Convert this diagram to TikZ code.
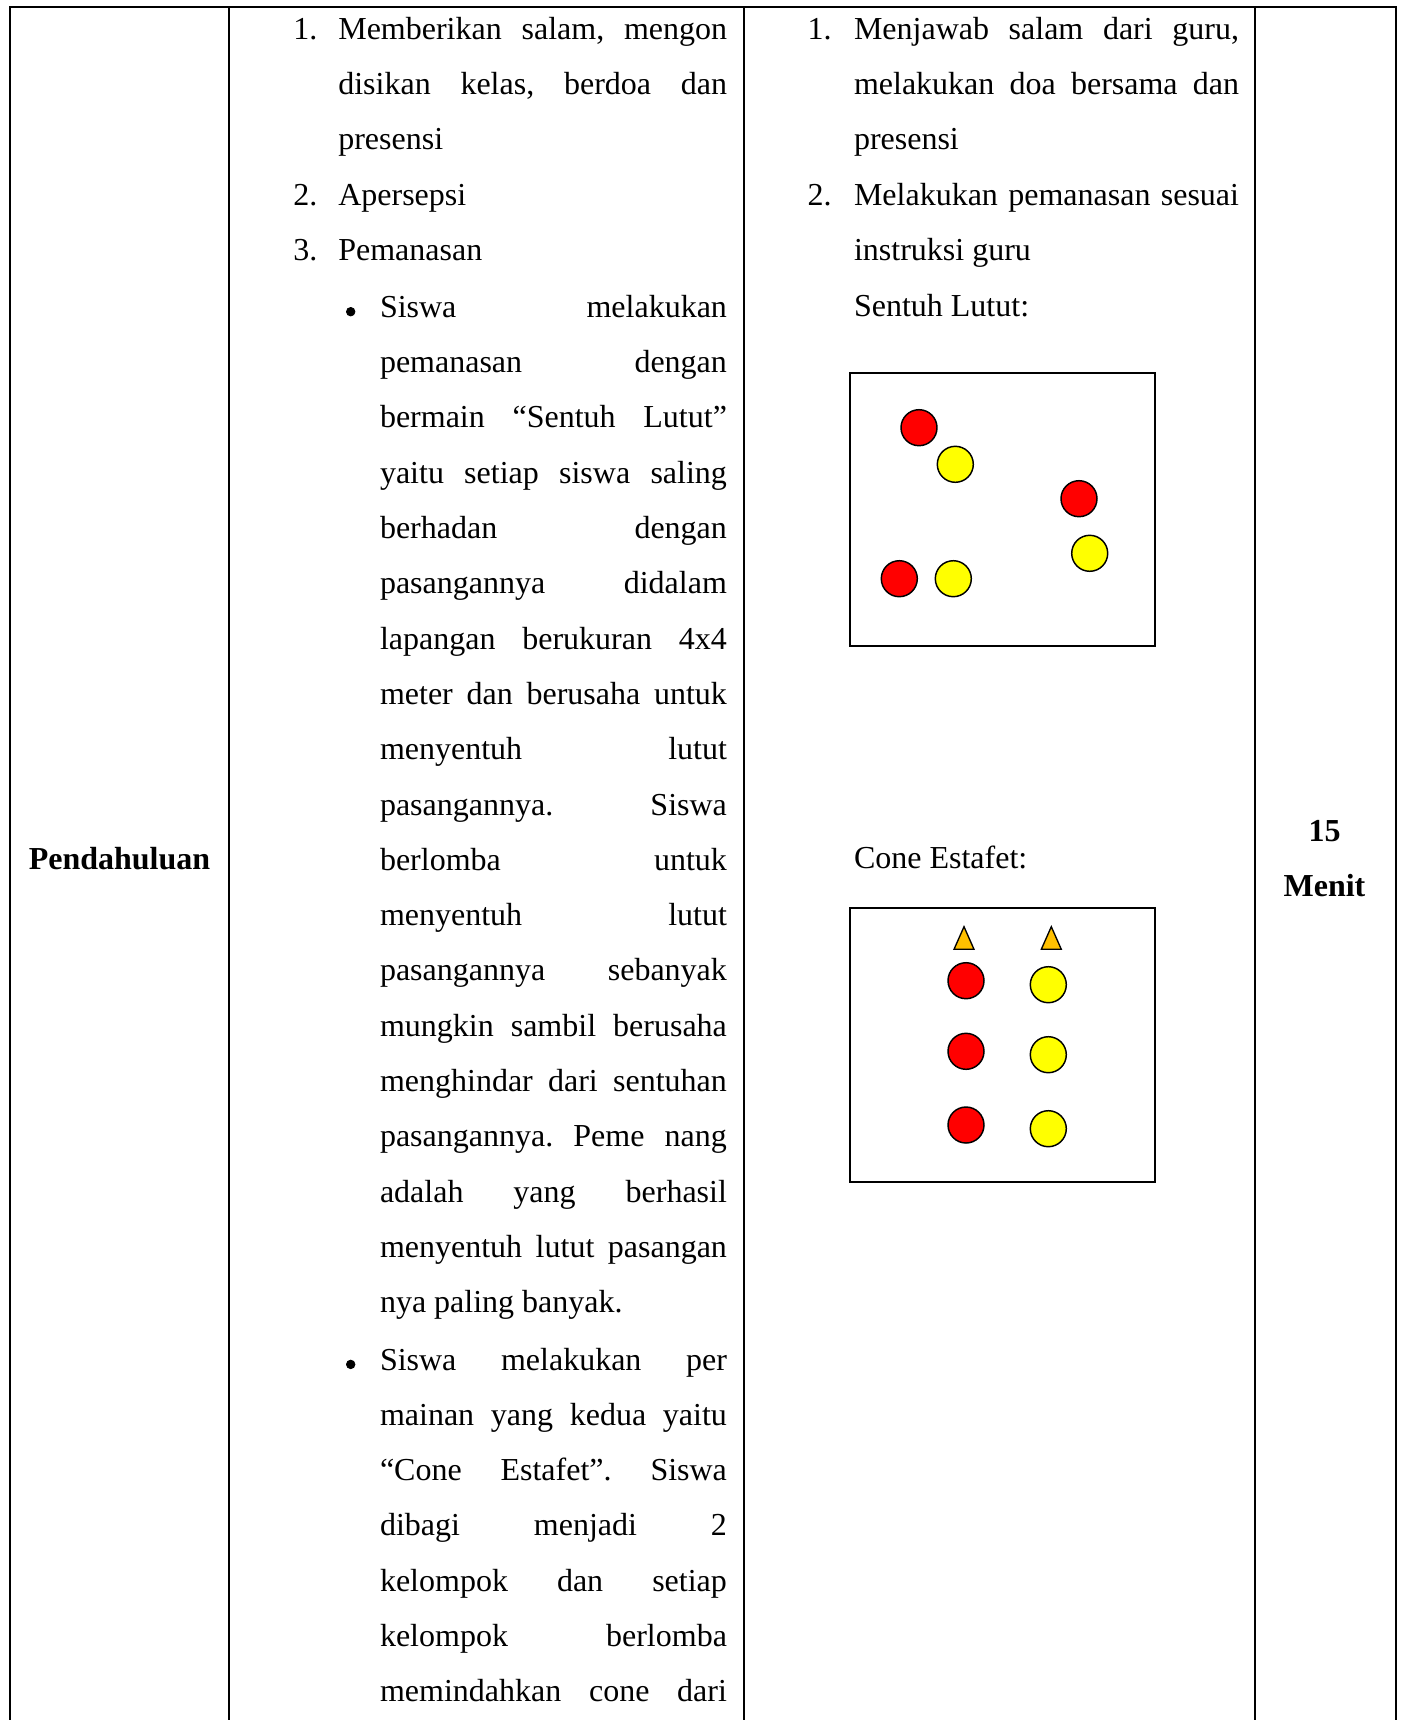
\documentclass[tikz,border=0pt]{standalone}
\usepackage{fontspec}
\setmainfont{Liberation Serif}
\definecolor{cred}{RGB}{255,0,0}
\definecolor{cyel}{RGB}{255,255,0}
\definecolor{cgold}{RGB}{255,192,0}
\newcommand{\jnum}[1]{\makebox[145.8pt][s]{#1}}
\newcommand{\jbul}[1]{\makebox[130.1pt][s]{#1}}
\newcommand{\jcol}[1]{\makebox[144.4pt][s]{#1}}
\frenchspacing
\begin{document}
\begin{tikzpicture}[x=0.375pt,y=-0.375pt,
  ln/.style={anchor=base west,inner sep=0pt,outer sep=0pt,font=\fontsize{12}{14}\selectfont},
  lnb/.style={anchor=base,inner sep=0pt,outer sep=0pt,font=\fontsize{12}{14}\selectfont\bfseries},
  tline/.style={line width=0.75pt},
  field/.style={draw,line width=0.45pt},
  pl/.style={circle,draw,line width=0.55pt,minimum size=13.5pt,inner sep=0pt},
  redp/.style={pl,fill=cred},
  yelp/.style={pl,fill=cyel},
  cone/.style={draw,line width=0.5pt,fill=cgold,line join=miter},
  bul/.style={circle,fill=black,draw=black,line width=0.3pt,inner sep=0pt,minimum size=3.2pt}]
\useasboundingbox (0,0) rectangle (1400,1720);
% table rules
\draw[tline] (9,7) -- (1396.5,7);
\draw[tline] (10,7) -- (10,1720);
\draw[tline] (229,7) -- (229,1720);
\draw[tline] (744,7) -- (744,1720);
\draw[tline] (1255,7) -- (1255,1720);
\draw[tline] (1395.5,7) -- (1395.5,1720);
% column 1 and 4
\node[lnb] (phase) at (119.5,869.3) {Pendahuluan};
\node[lnb] (dur1) at (1324.5,841.7) {15};
\node[lnb] (dur2) at (1324.5,896) {Menit};
% column 2
\node[ln] (n1) at (293.3,39.3) {1.};
\node[ln] (a0) at (338.3,39.3) {\jnum{Memberikan salam, mengon}};
\node[ln] (a1) at (338.3,94.6) {\jnum{disikan kelas, berdoa dan}};
\node[ln] (a2) at (338.3,149.9) {presensi};
\node[ln] (n2) at (293.3,205.2) {2.};
\node[ln] (a3) at (338.3,205.2) {Apersepsi};
\node[ln] (n3) at (293.3,260.5) {3.};
\node[ln] (a4) at (338.3,260.5) {Pemanasan};
\node[bul] (b1) at (350.7,311.7) {};
\node[ln] (a5) at (380,317.3) {\jbul{Siswa melakukan}};
\node[ln] (a6) at (380,372.6) {\jbul{pemanasan dengan}};
\node[ln] (a7) at (380,427.9) {\jbul{bermain “Sentuh Lutut”}};
\node[ln] (a8) at (380,483.2) {\jbul{yaitu setiap siswa saling}};
\node[ln] (a9) at (380,538.5) {\jbul{berhadan dengan}};
\node[ln] (a10) at (380,593.8) {\jbul{pasangannya didalam}};
\node[ln] (a11) at (380,649.1) {\jbul{lapangan berukuran 4x4}};
\node[ln] (a12) at (380,704.4) {\jbul{meter dan berusaha untuk}};
\node[ln] (a13) at (380,759.7) {\jbul{menyentuh lutut}};
\node[ln] (a14) at (380,815.0) {\jbul{pasangannya. Siswa}};
\node[ln] (a15) at (380,870.3) {\jbul{berlomba untuk}};
\node[ln] (a16) at (380,925.6) {\jbul{menyentuh lutut}};
\node[ln] (a17) at (380,980.9) {\jbul{pasangannya sebanyak}};
\node[ln] (a18) at (380,1036.2) {\jbul{mungkin sambil berusaha}};
\node[ln] (a19) at (380,1091.5) {\jbul{menghindar dari sentuhan}};
\node[ln] (a20) at (380,1146.8) {\jbul{pasangannya. Peme nang}};
\node[ln] (a21) at (380,1202.1) {\jbul{adalah yang berhasil}};
\node[ln] (a22) at (380,1257.4) {\jbul{menyentuh lutut pasangan}};
\node[ln] (a23) at (380,1312.7) {nya paling banyak.};
\node[bul] (b2) at (350.7,1364.4) {};
\node[ln] (a24) at (380,1370.0) {\jbul{Siswa melakukan per}};
\node[ln] (a25) at (380,1425.3) {\jbul{mainan yang kedua yaitu}};
\node[ln] (a26) at (380,1480.6) {\jbul{“Cone Estafet”. Siswa}};
\node[ln] (a27) at (380,1535.9) {\jbul{dibagi menjadi 2}};
\node[ln] (a28) at (380,1591.2) {\jbul{kelompok dan setiap}};
\node[ln] (a29) at (380,1646.5) {\jbul{kelompok berlomba}};
\node[ln] (a30) at (380,1701.8) {\jbul{memindahkan cone dari}};
% column 3
\node[ln] (m1) at (807.5,39.3) {1.};
\node[ln] (c0) at (854,39.3) {\jcol{Menjawab salam dari guru,}};
\node[ln] (c1) at (854,94.6) {\jcol{melakukan doa bersama dan}};
\node[ln] (c2) at (854,149.9) {presensi};
\node[ln] (m2) at (807.5,205.2) {2.};
\node[ln] (c3) at (854,205.2) {\jcol{Melakukan pemanasan sesuai}};
\node[ln] (c4) at (854,260.5) {instruksi guru};
\node[ln] (c5) at (854,316.5) {Sentuh Lutut:};
\node[ln] (c6) at (854,868.8) {Cone Estafet:};
% field 1: Sentuh Lutut
\draw[field] (850,373) rectangle (1155,646);
\node[redp] (s1) at (919,427.7) {};
\node[yelp] (s2) at (955.3,464.3) {};
\node[redp] (s3) at (1079,498.7) {};
\node[yelp] (s4) at (1089.7,553.3) {};
\node[redp] (s5) at (899.3,578.7) {};
\node[yelp] (s6) at (953.3,578.7) {};
% field 2: Cone Estafet
\draw[field] (850,908) rectangle (1155,1182);
\draw[cone] (964,926.7) -- (974,949.3) -- (954,949.3) -- cycle;
\draw[cone] (1051.3,926.7) -- (1061.3,949.3) -- (1041.3,949.3) -- cycle;
\node[redp] (e1) at (966,980.7) {};
\node[redp] (e2) at (966,1051.3) {};
\node[redp] (e3) at (966,1125) {};
\node[yelp] (e4) at (1048.3,984.7) {};
\node[yelp] (e5) at (1048.3,1054.7) {};
\node[yelp] (e6) at (1048.3,1128.7) {};
\end{tikzpicture}
\end{document}
